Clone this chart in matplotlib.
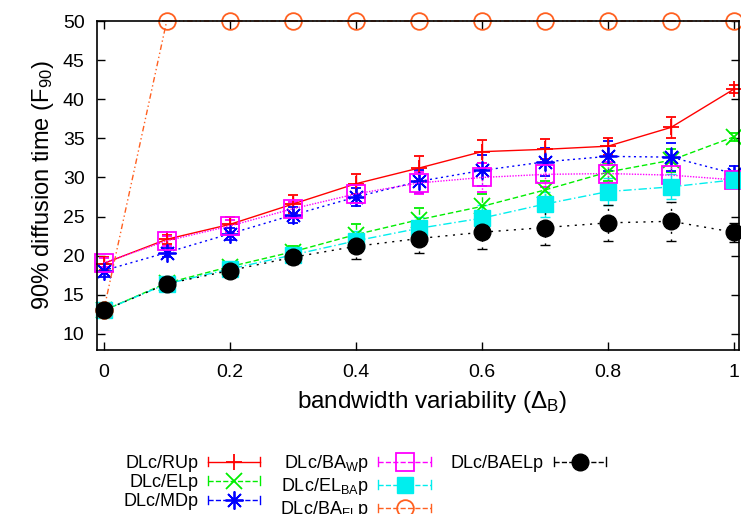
import numpy as np
import matplotlib
matplotlib.use('Agg')
import matplotlib.pyplot as plt
from matplotlib.lines import Line2D
from matplotlib.legend_handler import HandlerBase

plt.rcParams['font.family'] = ['Liberation Sans', 'DejaVu Sans']
plt.rcParams['mathtext.fontset'] = 'custom'
plt.rcParams['mathtext.rm'] = 'Liberation Sans'
plt.rcParams['mathtext.it'] = 'Liberation Sans:italic'

# data
x = [0, 0.1, 0.2, 0.3, 0.4, 0.5, 0.6, 0.7, 0.8, 0.9, 1.0]

ru_p = [19.0, 22.1, 24.0, 26.6, 29.2, 31.2, 33.3, 33.6, 34.0, 36.4, 41.3]
el_p = [13.0, 16.5, 18.6, 20.5, 22.7, 24.6, 26.3, 28.4, 30.7, 32.2, 35.2]
md_p = [18.1, 20.4, 22.8, 25.2, 27.5, 29.5, 30.9, 32.0, 32.7, 32.6, 30.5]
baw_p = [19.1, 21.9, 23.8, 26.0, 27.9, 29.3, 30.0, 30.4, 30.5, 30.3, 29.7]
elba_p = [13.0, 16.4, 18.3, 20.1, 21.9, 23.5, 24.8, 26.6, 28.2, 28.8, 29.7]
bael_p = [13.0, 16.4, 18.1, 19.8, 21.2, 22.2, 23.0, 23.6, 24.2, 24.4, 23.0]
bael_sub_p = [13.0, 50, 50, 50, 50, 50, 50, 50, 50, 50, 50]

ru_err = [0.8, 0.6, 1.0, 1.2, 1.3, 1.6, 1.5, 1.3, 1.1, 1.3, 0.5]
el_err = [0.5, 0.5, 0.6, 0.8, 1.4, 1.5, 1.6, 1.2, 1.2, 1.5, 0.5]
md_err = [0.8, 0.6, 0.8, 1.0, 1.2, 1.5, 2.0, 1.8, 1.9, 1.8, 1.0]
baw_err = [0.6, 0.6, 0.8, 0.9, 1.2, 1.4, 1.8, 1.6, 1.5, 1.6, 1.0]
elba_err = [0.5, 0.5, 0.5, 0.7, 1.2, 1.5, 1.7, 1.6, 1.7, 1.6, 0.8]
bael_err = [0.5, 0.5, 0.6, 0.8, 1.6, 1.9, 2.1, 2.2, 2.3, 2.5, 1.2]
bael_sub_err = [0, 0, 0, 0, 0, 0, 0, 0, 0, 0, 0]

labels = ['DLc/RUp', 'DLc/ELp', 'DLc/MDp',
          'DLc/BA$_\\mathrm{W}$p', 'DLc/EL$_\\mathrm{BA}$p', 'DLc/BA$_\\mathrm{EL}$p',
          'DLc/BAELp']
xtick_vals = [0, 0.2, 0.4, 0.6, 0.8, 1]
xtick_labels = ['0', '0.2', '0.4', '0.6', '0.8', '1']
ytick_vals = [10, 15, 20, 25, 30, 35, 40, 45, 50]

asterisk = (8, 2, 0)
styles = [
    dict(color='#ff0000', ls='-', marker='+', ms=11, mfc='none', mew=1.3),
    dict(color='#00ee00', ls=(0, (4, 2)), marker='x', ms=11, mfc='none', mew=1.3),
    dict(color='#0000ff', ls=(0, (1.5, 2.5)), marker=asterisk, ms=13, mfc='none', mew=1.3),
    dict(color='#ff00ff', ls=(0, (1, 1)), marker='s', ms=12.5, mfc='none', mew=1.3),
    dict(color='#00eeee', ls=(0, (6, 2, 1, 2)), marker='s', ms=12, mfc='#00eeee', mew=1.0),
    dict(color='#ff6020', ls=(0, (4, 2, 1, 2, 1, 2)), marker='o', ms=12, mfc='none', mew=1.3),
    dict(color='#000000', ls=(0, (1.5, 4)), marker='o', ms=12, mfc='#000000', mew=1.0),
]
series = [ru_p, el_p, md_p, baw_p, elba_p, bael_sub_p, bael_p]
errors = [ru_err, el_err, md_err, baw_err, elba_err, bael_sub_err, bael_err]


class CapLineHandler(HandlerBase):
    """gnuplot-like key sample: line with end caps and a marker in the middle."""
    def create_artists(self, legend, orig, xdescent, ydescent, width, height, fontsize, trans):
        y = height / 2 - ydescent
        x0, x1 = -xdescent, width - xdescent
        c = orig.get_color()
        ls = orig.get_linestyle()
        lw = orig.get_linewidth()
        h = 0.35 * height
        line = Line2D([x0, x1], [y, y], color=c, ls=ls, lw=lw)
        capl = Line2D([x0, x0], [y - h, y + h], color=c, lw=lw)
        capr = Line2D([x1, x1], [y - h, y + h], color=c, lw=lw)
        mk = Line2D([(x0 + x1) / 2], [y], ls='none', marker=orig.get_marker(),
                    ms=orig.get_markersize(), mfc=orig.get_markerfacecolor(),
                    mec=c, mew=orig.get_markeredgewidth())
        arts = [line, capl, capr, mk]
        for a in arts:
            a.set_transform(trans)
        return arts


fig = plt.figure(figsize=(7.41, 5.14), dpi=100)
ax = fig.add_axes([0.1309, 0.3191, 0.8668, 0.64])

proxies = []
for y, e, st in zip(series, errors, styles):
    cont = ax.errorbar(x, y, yerr=e, capsize=3.7, elinewidth=1.0, lw=1.0,
                       clip_on=False, **st)
    for c in cont.lines[1]:
        c.set_clip_on(False)
    for c in cont.lines[2]:
        c.set_clip_on(False)
        c.set_linestyle(st['ls'])
    proxies.append(Line2D([], [], lw=1.0, **st))

ax.set_xlim(-0.0106, 1.0084)
ax.set_ylim(7.95, 50)
ax.set_xticks(xtick_vals)
ax.set_xticklabels(xtick_labels)
ax.set_yticks(ytick_vals)
ax.tick_params(direction='in', top=True, right=True, length=6, labelsize=14, width=1)
ax.tick_params(axis='x', pad=10)
ax.tick_params(axis='y', pad=9)
for s in ax.spines.values():
    s.set_linewidth(1.2)

ax.set_xlabel('bandwidth variability ($\\Delta_\\mathrm{B}$)', fontsize=17.5, labelpad=6)
ax.xaxis.label.set_x(0.522)
ax.set_ylabel('90% diffusion time (F$_{90}$)', fontsize=17, labelpad=5)

# pad the legend so the columns hold 3, 3, 1 entries like the original
blank = Line2D([], [], color='none', marker='none')
leg_handles = proxies[:6] + [proxies[6], blank, blank]
leg_labels = labels[:6] + [labels[6], '', '']
hmap = {p: CapLineHandler() for p in proxies}
fig.legend(leg_handles, leg_labels, ncol=3, markerfirst=False, frameon=False,
           loc='upper left', bbox_to_anchor=(0.166, 1 - 453 / 514),
           fontsize=13, handlelength=2.9, handletextpad=0.55, columnspacing=1.1,
           labelspacing=0.12, borderpad=0, borderaxespad=0, handler_map=hmap)

fig.savefig('out.png', dpi=100)
